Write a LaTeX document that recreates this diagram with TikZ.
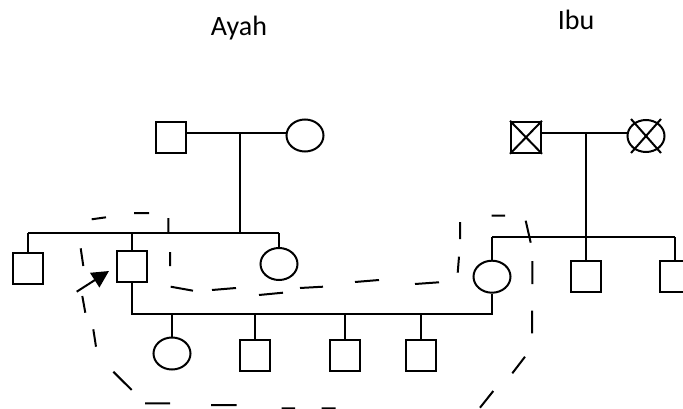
\documentclass[tikz,border=0pt]{standalone}
\usepackage{fontspec}
\setmainfont{Carlito}
\usetikzlibrary{shapes.geometric,arrows.meta}
\begin{document}
\begin{tikzpicture}[x=1pt,y=-1pt,
  line width=2pt,
  male/.style={draw,rectangle,inner sep=0pt,minimum width=30pt,minimum height=31pt},
  female/.style={draw,ellipse,inner sep=0pt,minimum width=37pt,minimum height=32pt},
  label/.style={font=\fontsize{28}{33}\selectfont,anchor=base,inner sep=0pt},
  dashline/.style={line width=2pt}]
\useasboundingbox (0,0) rectangle (683,409);
\clip (0,0) rectangle (683,409);

% titles
\node[label] (ayah) at (239,36) {Ayah};
\node[label] (ibu) at (576,29.3) {Ibu};

% grandparents, father's side
\node[male] (gf) at (171,138) {};
\node[female] (gm) at (305,135.5) {};
\coordinate (m1) at (240,133);
\coordinate (sibL) at (240,233);
\draw (gf.east |- m1) -- (gm.west |- m1);
\draw (m1) -- (sibL);

% grandparents, mother's side (deceased)
\node[male] (igf) at (526,137.3) {};
\node[female] (igm) at (646,136) {};
\draw (igf.north west) -- (igf.south east) (igf.north east) -- (igf.south west);
\draw ([shift={(-15,-17)}]igm.center) -- ([shift={(15,17)}]igm.center)
      ([shift={(15,-17)}]igm.center) -- ([shift={(-15,17)}]igm.center);
\coordinate (m2) at (586,133);
\coordinate (sibR) at (586,236.7);
\draw (igf.east |- m2) -- (igm.west |- m2);
\draw (m2) -- (sibR);

% father's siblings
\node[male] (c1) at (28,268.3) {};
\node[male] (p) at (132,266) {};
\node[female] (c3) at (279,264) {};
\draw (c1.north |- sibL) -- (c3.north |- sibL);
\foreach \n in {c1,p,c3} \draw (\n.north) -- (\n.north |- sibL);

% mother's siblings
\node[female] (mo) at (492,276.7) {};
\node[male] (u1) at (586,276.8) {};
\node[male] (u2) at (675,276.8) {};
\draw (mo.north |- sibR) -- (u2.north |- sibR);
\foreach \n in {mo,u1,u2} \draw (\n.north) -- (\n.north |- sibR);

% children
\coordinate (kl) at (0,314);
\draw (p.south) -- (p.south |- kl) -- (mo.south |- kl) -- (mo.south);
\node[female] (k1) at (172,353.5) {};
\node[male] (k2) at (255,355.7) {};
\node[male] (k3) at (345,355.7) {};
\node[male] (k4) at (421,355.5) {};
\foreach \n in {k1,k2,k3,k4} \draw (\n.north) -- (\n.north |- kl);

% proband arrow
\coordinate (arrtail) at (76.7,291.7);
\coordinate (arrtip) at (109,271);
\draw[-{Triangle[length=17pt,width=17pt]}] (arrtail) -- (arrtip);

% hand-drawn dashed outline of the family unit
\draw[dashline]
  (91.7,219.3) -- (106,217.3)
  (134,213) -- (149,213)
  (168.3,218) -- (168.3,232)
  (170,252) -- (170,266)
  (170.7,286.7) -- (193,290.7)
  (212,290) -- (236,288)
  (259,295) -- (283,292.7)
  (300,288) -- (323,286.7)
  (355,282) -- (379,280)
  (415,284) -- (439,282.3)
  (459,256.7) -- (457.7,272.7)
  (460,222) -- (460,239)
  (491.7,215.7) -- (505,215.7)
  (525.7,220.7) -- (530.7,242.7)
  (532.3,261) -- (532.3,284)
  (532,310.7) -- (532,333.3)
  (525,356.7) -- (512.3,373.3)
  (493.3,391) -- (480,407.7)
  (335.7,408.3) -- (321.7,408.3)
  (295,408.3) -- (281.7,408.3)
  (236.7,405) -- (211,405)
  (170,403.3) -- (145,403.3)
  (131.7,390) -- (113.3,371.7)
  (96,346.7) -- (93.3,329.3)
  (85.3,312.7) -- (82.3,296)
  (83.3,266) -- (80.7,248.3);
\end{tikzpicture}
\end{document}
